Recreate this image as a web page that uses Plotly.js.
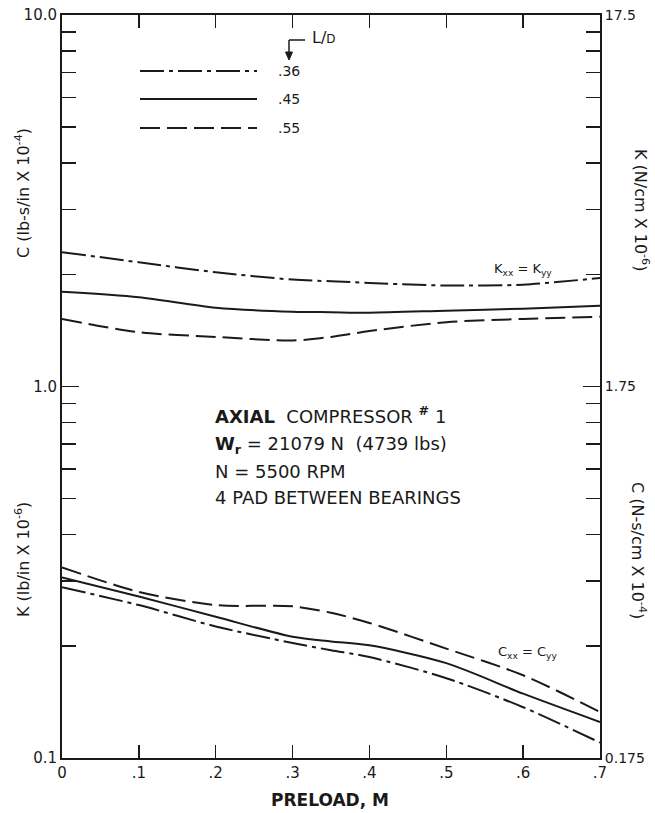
<!DOCTYPE html>
<html>
<head>
<meta charset="utf-8">
<script src="https://cdn.plot.ly/plotly-3.0.1.min.js"></script>
<style>
  html, body { margin: 0; padding: 0; background: #fff; }
  #chart { width: 655px; height: 813px; }
</style>
</head>
<body>
<div id="chart"></div>
<script>
// ---- data ----
const preloadK = [0, 0.1, 0.2, 0.3, 0.35, 0.4, 0.5, 0.6, 0.7];
const K_036 = [2.30, 2.16, 2.03, 1.94, 1.92, 1.90, 1.87, 1.88, 1.96];
const K_045 = [1.80, 1.74, 1.63, 1.59, 1.585, 1.58, 1.60, 1.62, 1.65];
const K_055 = [1.52, 1.40, 1.36, 1.33, 1.36, 1.41, 1.49, 1.52, 1.54];

const preloadC = [0, 0.1, 0.2, 0.3, 0.35, 0.4, 0.5, 0.6, 0.7];
const C_036 = [0.288, 0.258, 0.226, 0.204, 0.195, 0.187, 0.164, 0.137, 0.110];
const C_045 = [0.306, 0.272, 0.240, 0.212, 0.206, 0.201, 0.180, 0.149, 0.125];
const C_055 = [0.326, 0.280, 0.258, 0.256, 0.246, 0.231, 0.197, 0.167, 0.133];

const ldLabels = ['.36', '.45', '.55'];

const xTickVals = [0, 0.1, 0.2, 0.3, 0.4, 0.5, 0.6, 0.7];
const xTickText = ['0', '.1', '.2', '.3', '.4', '.5', '.6', '.7'];
const yLeftMajor = [0.1, 1, 10];
const yLeftMajorText = ['0.1', '1.0', '10.0'];
const yLeftMinor = [0.2,0.3,0.4,0.5,0.6,0.7,0.8,0.9,2,3,4,5,6,7,8,9];
const yRightMajor = [0.175, 1.75, 17.5];
const yRightMajorText = ['0.175', '1.75', '17.5'];
const yRightMinor = [0.35,0.525,0.7,0.875,1.05,1.225,1.4,1.575,3.5,5.25,7,8.75,10.5,12.25,14,15.75];

// ---- styles ----
const INK = '#1a1a1a';
const FONT = 'DejaVu Sans, Liberation Sans, sans-serif';
const DASHDOT = '24px,5px,4px,5px';
const DASHED = '20px,7px';
const styles = [
  {dash: DASHDOT}, {dash: 'solid'}, {dash: DASHED}
];

function tr(x, y, st) {
  return {
    x: x, y: y, type: 'scatter', mode: 'lines',
    line: {color: INK, width: 2, dash: st.dash, shape: 'spline', smoothing: 0.8},
    showlegend: false, hoverinfo: 'skip'
  };
}

const data = [
  tr(preloadK, K_036, styles[0]),
  tr(preloadK, K_045, styles[1]),
  tr(preloadK, K_055, styles[2]),
  tr(preloadC, C_036, styles[0]),
  tr(preloadC, C_045, styles[1]),
  tr(preloadC, C_055, styles[2]),
  // dummy for right axis
  {x: [0], y: [1.75], yaxis: 'y2', type: 'scatter', mode: 'markers',
   marker: {opacity: 0}, showlegend: false, hoverinfo: 'skip'}
];

// plot area in pixels: left 62, right 600, top 15, bottom 758
const L = 62, R = 600, T = 15, B = 758;
const px = v => (v - L) / (R - L);
const py = v => (B - v) / (B - T);

const shapes = [];
const annotations = [];
const legendY = [71, 99, 128];
legendY.forEach((yy, i) => {
  shapes.push({type: 'line', xref: 'paper', yref: 'paper',
    x0: px(140), x1: px(257), y0: py(yy), y1: py(yy),
    line: {color: INK, width: 2, dash: styles[i].dash}});
  annotations.push({xref: 'paper', yref: 'paper', x: px(276), y: py(yy),
    xanchor: 'left', yanchor: 'middle', showarrow: false,
    text: ldLabels[i], font: {family: FONT, size: 14, color: INK}});
});
// L/D header with bent arrow
shapes.push({type: 'line', xref: 'paper', yref: 'paper',
  x0: px(289), x1: px(305), y0: py(40), y1: py(40),
  line: {color: INK, width: 1.5}});
shapes.push({type: 'line', xref: 'paper', yref: 'paper',
  x0: px(289), x1: px(289), y0: py(40), y1: py(54),
  line: {color: INK, width: 1.5}});
shapes.push({type: 'path', xref: 'paper', yref: 'paper',
  path: `M ${px(285.5)} ${py(52)} L ${px(292.5)} ${py(52)} L ${px(289)} ${py(60)} Z`,
  fillcolor: INK, line: {color: INK, width: 1}});
annotations.push({xref: 'paper', yref: 'paper', x: px(310), y: py(37),
  xanchor: 'left', yanchor: 'middle', showarrow: false,
  text: 'L/<span style="font-size:12px">D</span>', font: {family: FONT, size: 16, color: INK}});

// central info block
const info = [
  ['<b>AXIAL</b>  COMPRESSOR <b><sup>#</sup></b> 1', 415],
  ['<b>W<sub>r</sub></b> = 21079 N  (4739 lbs)', 445],
  ['N = 5500 RPM', 471],
  ['4 PAD BETWEEN BEARINGS', 497]
];
info.forEach(([t, yy]) => annotations.push({xref: 'paper', yref: 'paper',
  x: px(213), y: py(yy), xanchor: 'left', yanchor: 'middle', showarrow: false,
  text: t, font: {family: FONT, size: 18, color: INK}}));

annotations.push({xref: 'paper', yref: 'paper', x: px(523), y: py(269),
  xanchor: 'center', yanchor: 'middle', showarrow: false,
  text: 'K<sub>xx</sub> = K<sub>yy</sub>', font: {family: FONT, size: 13, color: INK}});
annotations.push({xref: 'paper', yref: 'paper', x: px(527), y: py(652),
  xanchor: 'center', yanchor: 'middle', showarrow: false,
  text: 'C<sub>xx</sub> = C<sub>yy</sub>', font: {family: FONT, size: 13, color: INK}});

// axis titles
const tfont = {family: FONT, size: 16, color: INK};
annotations.push({xref: 'paper', yref: 'paper', x: px(22), y: py(193), textangle: -90,
  showarrow: false, xanchor: 'center', yanchor: 'middle',
  text: 'C (lb-s/in X 10<sup>-4</sup>)', font: tfont});
annotations.push({xref: 'paper', yref: 'paper', x: px(22), y: py(560), textangle: -90,
  showarrow: false, xanchor: 'center', yanchor: 'middle',
  text: 'K (lb/in X 10<sup>-6</sup>)', font: tfont});
annotations.push({xref: 'paper', yref: 'paper', x: px(641), y: py(210), textangle: 90,
  showarrow: false, xanchor: 'center', yanchor: 'middle',
  text: 'K (N/cm X 10<sup>-6</sup>)', font: tfont});
annotations.push({xref: 'paper', yref: 'paper', x: px(639), y: py(550), textangle: 90,
  showarrow: false, xanchor: 'center', yanchor: 'middle',
  text: 'C (N-s/cm X 10<sup>-4</sup>)', font: tfont});
annotations.push({xref: 'paper', yref: 'paper', x: px(330), y: py(800),
  showarrow: false, xanchor: 'center', yanchor: 'middle',
  text: '<b>PRELOAD, M</b>', font: {family: FONT, size: 17, color: INK}});

const layout = {
  width: 655, height: 813,
  margin: {l: L, r: 655 - R, t: T, b: 813 - B},
  paper_bgcolor: '#fff', plot_bgcolor: '#fff',
  showlegend: false,
  font: {family: FONT, size: 13, color: INK},
  xaxis: {
    range: [0, 0.7], tickmode: 'array', tickvals: xTickVals, ticktext: xTickText,
    ticks: 'inside', ticklen: 13, tickwidth: 1.5, tickcolor: INK,
    showline: true, linecolor: INK, linewidth: 2, mirror: 'ticks',
    showgrid: false, zeroline: false, tickfont: {size: 15}
  },
  yaxis: {
    type: 'log', range: [-1, 1], tickmode: 'array',
    tickvals: yLeftMajor, ticktext: yLeftMajorText,
    ticks: 'inside', ticklen: 17, tickwidth: 1.5, tickcolor: INK,
    minor: {tickvals: yLeftMinor, ticks: 'inside', ticklen: 14, tickwidth: 1.5, tickcolor: INK, showgrid: false},
    showline: true, linecolor: INK, linewidth: 2,
    showgrid: false, zeroline: false, tickfont: {size: 15}
  },
  yaxis2: {
    type: 'log', overlaying: 'y', side: 'right',
    range: [Math.log10(0.175), Math.log10(17.5)], tickmode: 'array',
    tickvals: yRightMajor, ticktext: yRightMajorText,
    ticks: 'inside', ticklen: 17, tickwidth: 1.5, tickcolor: INK,
    minor: {tickvals: yRightMinor, ticks: 'inside', ticklen: 14, tickwidth: 1.5, tickcolor: INK, showgrid: false},
    showline: true, linecolor: INK, linewidth: 2,
    showgrid: false, zeroline: false, tickfont: {size: 14}
  },
  shapes: shapes,
  annotations: annotations
};

Plotly.newPlot('chart', data, layout, {staticPlot: true, displayModeBar: false});
</script>
</body>
</html>
